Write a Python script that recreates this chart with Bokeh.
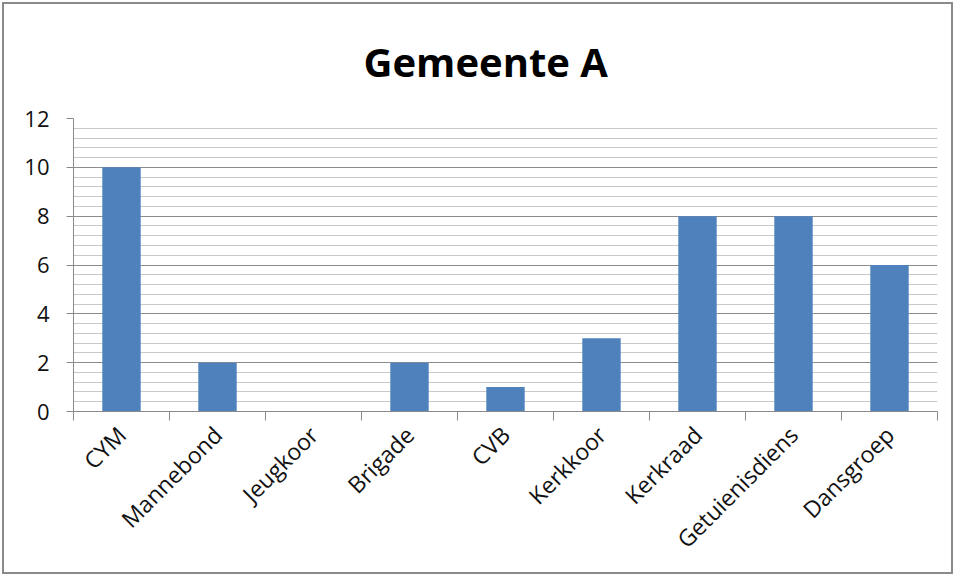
from bokeh.plotting import figure
from bokeh.models import Range1d, FixedTicker, ColumnDataSource
from bokeh.embed import file_html
from bokeh.resources import INLINE
import math

categories = ["CYM", "Mannebond", "Jeugkoor", "Brigade", "CVB", "Kerkkoor",
              "Kerkraad", "Getuienisdiens", "Dansgroep"]
values = [10, 2, 0, 2, 1, 3, 8, 8, 6]
y_ticks = [0, 2, 4, 6, 8, 10, 12]
title_text = "Gemeente A"

n = len(categories)
centers = [i + 0.5 for i in range(n)]
bounds = [float(i) for i in range(n + 1)]
minor_y = [round(k * 0.4, 6) for k in range(int(12 / 0.4) + 1)]

W, H = 955, 576
p = figure(width=W, height=H, output_backend="svg", toolbar_location=None,
           x_range=Range1d(0, n), y_range=Range1d(0, 12),
           min_border_left=73, min_border_right=18, min_border_top=118,
           min_border_bottom=165, title=title_text)

p.title.align = "left"
p.title.offset = 290
p.title.vertical_align = "bottom"
p.title.standoff = 60
p.title.text_font = "Open Sans"
p.title.text_font_size = "40px"
p.title.text_font_style = "bold"
p.title.text_color = "#000000"

p.outline_line_color = None
p.background_fill_color = "white"
p.border_fill_color = "white"
p.border_fill_alpha = 0
p.styles = {"outline": "2px solid #8a8a8a", "outline-offset": "-4px",
            "background-color": "white"}

src = ColumnDataSource(dict(x=centers, top=values, cat=categories))
p.vbar(x="x", top="top", width=0.4, source=src, fill_color="#4F81BD",
       line_color=None)

# X axis
xa = p.xaxis[0]
xa.ticker = FixedTicker(ticks=centers, minor_ticks=bounds)
xa.major_label_overrides = {c: lab for c, lab in zip(centers, categories)}
xa.major_label_orientation = math.pi / 4
xa.major_tick_line_color = None
xa.major_tick_out = 9
xa.major_tick_in = 0
xa.minor_tick_out = 9
xa.minor_tick_in = 0
xa.minor_tick_line_color = "#8a8a8a"
xa.axis_line_color = "#8a8a8a"
xa.major_label_text_font = "Open Sans"
xa.major_label_text_font_size = "23px"
xa.major_label_text_color = "#111111"
xa.major_label_standoff = 10

# Y axis
ya = p.yaxis[0]
ya.ticker = FixedTicker(ticks=y_ticks, minor_ticks=minor_y)
ya.major_tick_out = 7
ya.major_tick_in = 0
ya.major_tick_line_color = "#8a8a8a"
ya.minor_tick_line_color = None
ya.axis_line_color = "#8a8a8a"
ya.major_label_text_font = "Open Sans"
ya.major_label_text_font_size = "22px"
ya.major_label_text_color = "#111111"
ya.major_label_standoff = 17

p.xgrid.grid_line_color = None
p.ygrid.grid_line_color = "#8c8c8c"
p.ygrid.minor_grid_line_color = "#c8c8c8"
p.ygrid.level = "underlay"

open("out.html", "w").write(file_html(p, INLINE))
